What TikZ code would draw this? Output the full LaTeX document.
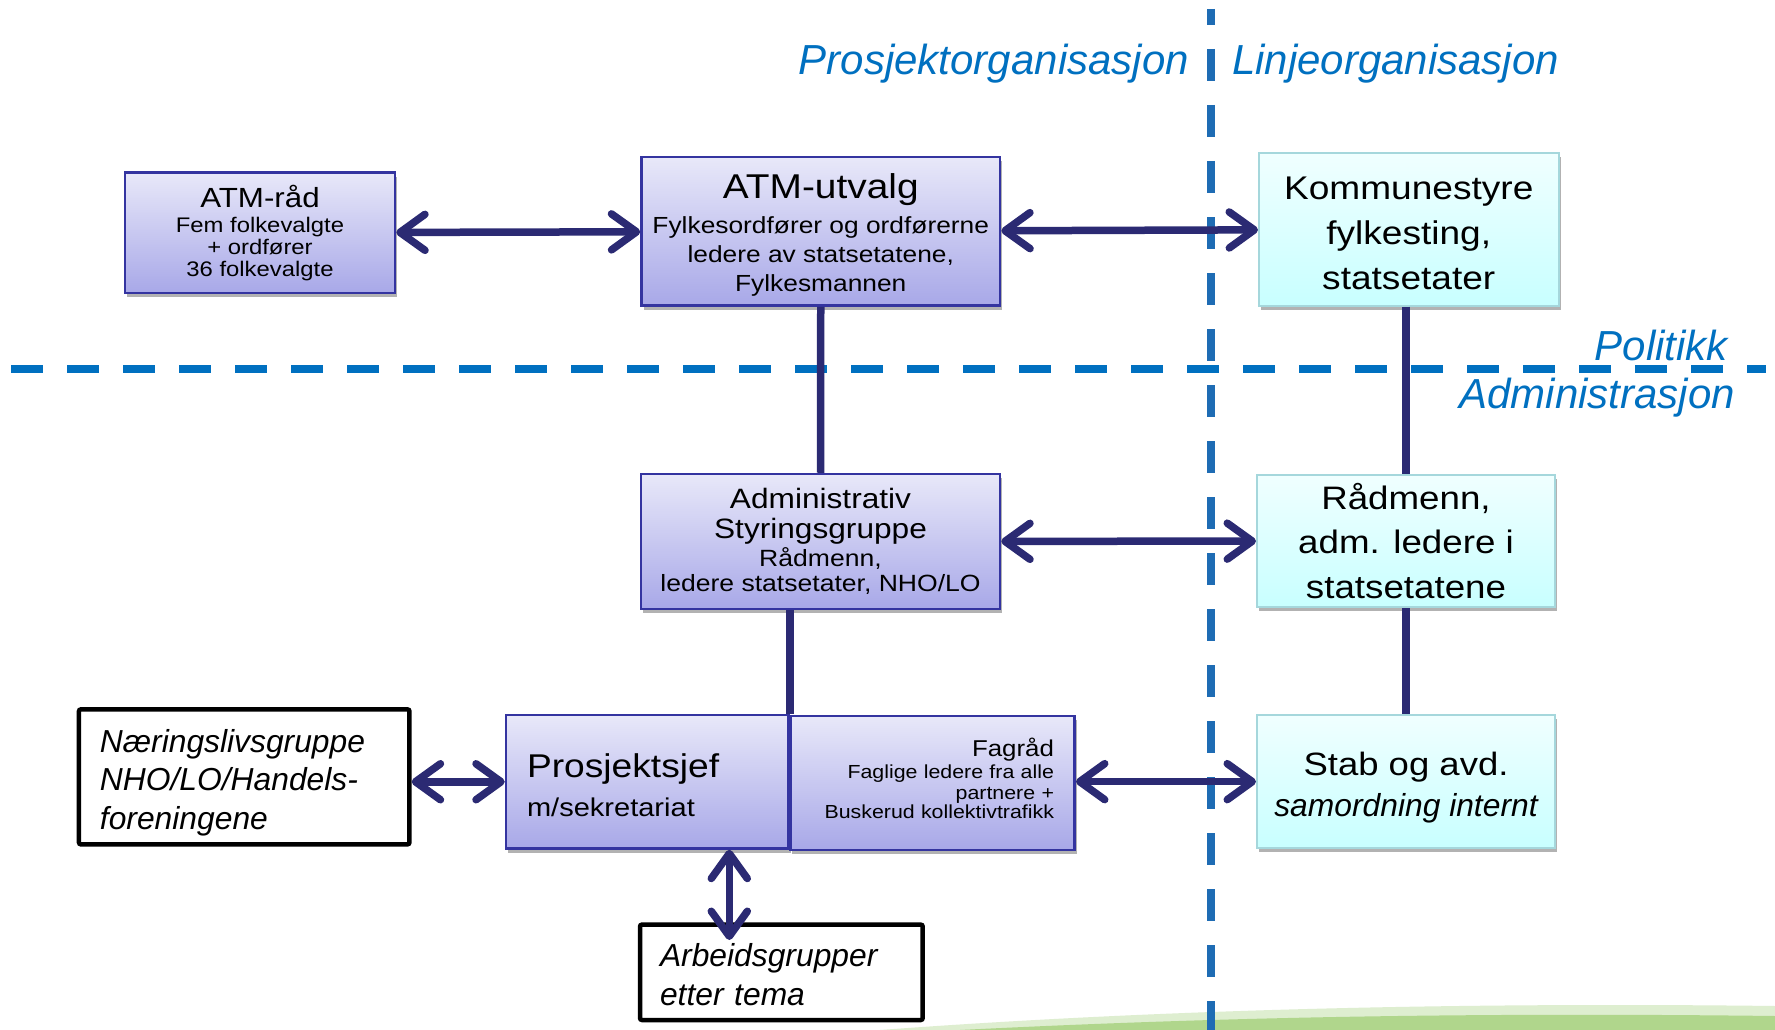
\documentclass[tikz,border=0pt]{standalone}
\usepackage{fontspec}
\setmainfont{Liberation Sans}[FakeStretch=1.13]
\newfontfamily\plainsf{Liberation Sans}
\usetikzlibrary{arrows.meta,shadows}
\definecolor{navy}{RGB}{43,42,115}
\definecolor{hblue}{RGB}{0,112,192}
\definecolor{vblue}{RGB}{30,108,180}
\definecolor{ptop}{RGB}{232,232,249}
\definecolor{pbot}{RGB}{168,168,232}
\definecolor{pborder}{RGB}{52,52,160}
\definecolor{ctop}{RGB}{240,255,255}
\definecolor{cbot}{RGB}{200,255,255}
\definecolor{cborder}{RGB}{165,215,220}
\definecolor{labelblue}{RGB}{0,112,192}
\definecolor{greenlight}{RGB}{222,238,208}
\definecolor{greenmid}{RGB}{176,214,140}
\newcommand{\topstrut}[1]{\rule{0pt}{#1}}
\begin{document}
\begin{tikzpicture}[x=1pt,y=-1pt,
  boxshadow/.style={drop shadow={shadow xshift=2pt, shadow yshift=-4pt, opacity=0.3, fill=black}},
  pbox/.style={rectangle, draw=pborder, line width=2.5pt, top color=ptop, bottom color=pbot, inner sep=2pt, align=center, text=black, boxshadow},
  cbox/.style={rectangle, draw=cborder, line width=2pt, top color=ctop, bottom color=cbot, inner sep=2pt, align=center, text=black, boxshadow},
  kbox/.style={rectangle, draw=black, line width=4.5pt, fill=white, rounded corners=2pt, align=left, inner ysep=2pt, font=\plainsf\itshape\fontsize{31.8}{38.5}\selectfont},
  conn/.style={draw=navy, line width=7.5pt},
  biarrow/.style={conn, >={Straight Barb[length=25pt,width=36pt,round]}, <->},
  hdash/.style={draw=hblue, line width=8pt, dash pattern=on 32pt off 24pt},
  vdash/.style={draw=vblue, line width=8pt, dash pattern=on 32pt off 24pt, dash phase=16pt},
  orglabel/.style={text=labelblue, font=\plainsf\itshape\fontsize{42}{50}\selectfont, inner sep=0pt}
]
% canvas
\fill[white] (0,0) rectangle (1775,1030);
\useasboundingbox (0,0) rectangle (1775,1030);

% green hill at the bottom
\fill[greenlight] (880,1030) .. controls (1150,1010) and (1450,1002) .. (1775,1006) -- (1775,1030) -- cycle;
\fill[greenmid] (960,1030) .. controls (1200,1018) and (1450,1012) .. (1775,1016) -- (1775,1030) -- cycle;

% dashed division lines
\draw[hdash] (11,369) -- (1766,369);
\draw[vdash] (1211,9) -- (1211,1030);

% boxes
\node[pbox, minimum width=270pt, minimum height=120.5pt, font=\fontsize{21.1}{22.5}\selectfont] (rad) at (260,232.75)
  {{\fontsize{27.7}{30}\selectfont ATM-råd}\\[2.5pt] Fem folkevalgte\\ + ordfører\\[-1pt] 36 folkevalgte};

\node[pbox, minimum width=358.5pt, minimum height=148.7pt, font=\fontsize{23.3}{29}\selectfont] (utv) at (820.75,231.35)
  {{\fontsize{34.4}{36}\selectfont \topstrut{32pt}ATM-utvalg}\\[6pt] Fylkesordfører og ordførerne\\ ledere av statsetatene,\\ Fylkesmannen};

\node[cbox, minimum width=299.5pt, minimum height=152.7pt, font=\fontsize{32.8}{45}\selectfont] (kom) at (1408.75,229.35)
  {\topstrut{31pt}Kommunestyre\\ fylkesting,\\ statsetater};

\node[pbox, minimum width=359pt, minimum height=135pt, font=\fontsize{23.5}{25}\selectfont] (adm) at (820.5,541.5)
  {{\fontsize{28}{30}\selectfont Administrativ}\\[5pt] {\fontsize{28}{30}\selectfont Styringsgruppe}\\[2.7pt] Rådmenn,\\ ledere statsetater, NHO/LO};

\node[cbox, minimum width=298pt, minimum height=132.3pt, font=\fontsize{32.5}{44.7}\selectfont] (rm) at (1406,541)
  {Rådmenn,\\ adm. ledere i\\ statsetatene};

\node[pbox, align=left, text width=240.5pt, inner xsep=21pt, minimum height=133.5pt, font=\fontsize{25.7}{39}\selectfont] (ps) at (647.25,781.75)
  {{\fontsize{32.9}{36}\selectfont \topstrut{30pt}Prosjektsjef}\\ m/sekretariat};

\node[pbox, align=right, text width=243pt, inner xsep=20.7pt, minimum height=133.7pt, font=\fontsize{18.9}{20}\selectfont] (fag) at (932.5,782.9)
  {{\fontsize{22.9}{24}\selectfont Fagråd}\\[2.3pt] Faglige ledere fra alle\\[1pt] partnere +\\[-1pt] Buskerud kollektivtrafikk\\[-11pt]\mbox{}};

\node[cbox, minimum width=298pt, minimum height=133.3pt, font=\fontsize{32.3}{40.8}\selectfont] (stab) at (1406,781.65)
  {\topstrut{35.5pt}Stab og avd.\\ {\plainsf\itshape\fontsize{31.8}{40.8}\selectfont samordning internt}};

\node[kbox, text width=288.5pt, inner xsep=21pt, minimum height=135pt] (naer) at (244.2,776.85)
  {\topstrut{34.5pt}Næringslivsgruppe\\ NHO/LO/Handels-\\ foreningene};

\node[kbox, text width=242.7pt, inner xsep=20pt, minimum height=95.4pt] (arb) at (781.35,972.3)
  {\topstrut{27.5pt}Arbeidsgrupper\\ etter tema};

% connectors
\coordinate (arbtip) at (729.3,940);
\draw[biarrow] (rad) -- (utv);
\draw[biarrow] (utv) -- (kom);
\draw[conn] (utv.south) -- (adm.north);
\draw[conn] (rm.north |- kom.south) -- (rm.north);
\draw[biarrow] (adm) -- (rm);
\draw[conn] (rm.south) -- (stab.north);
\draw[conn] (adm.south -| ps.north east) -- (ps.north east);
\draw[biarrow] (naer.east |- ps.west) -- (ps.west);
\draw[biarrow] (fag.east |- stab.west) -- (stab.west);
\draw[biarrow] (ps.south -| arbtip) -- (arbtip);

% region labels
\node[orglabel, anchor=base east] (lprosj) at (1189,75) {Prosjektorganisasjon};
\node[orglabel, anchor=base west] (llinje) at (1232,75) {Linjeorganisasjon};
\node[orglabel, anchor=base east] (lpol) at (1728,360) {Politikk};
\node[orglabel, anchor=base east] (ladm) at (1735,408) {Administrasjon};
\end{tikzpicture}
\end{document}
